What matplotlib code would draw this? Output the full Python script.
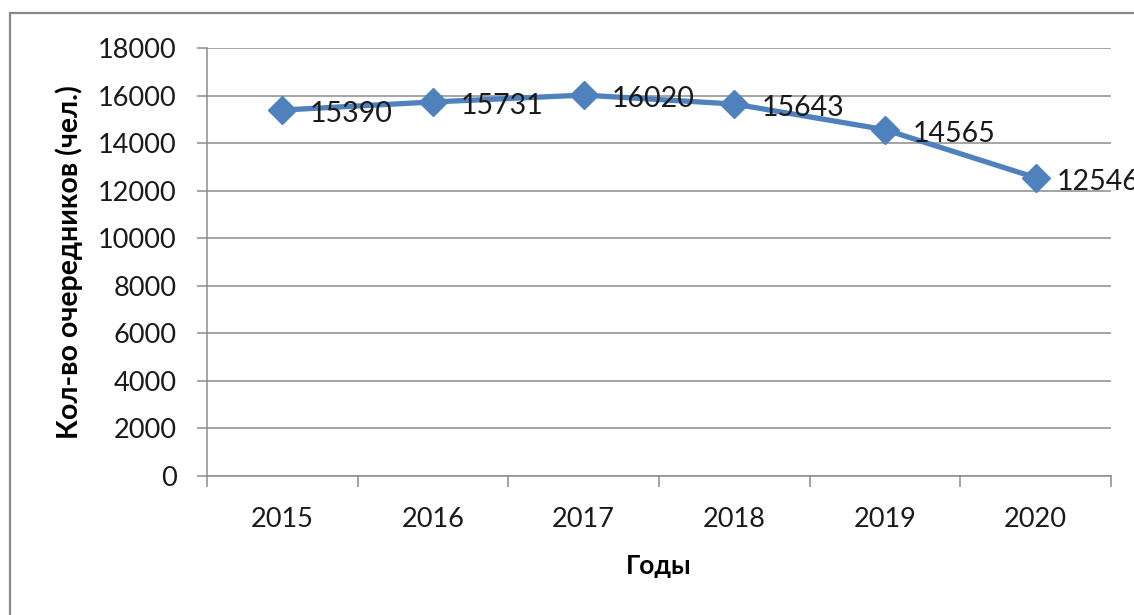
import matplotlib.pyplot as plt
from matplotlib.patches import Rectangle
from matplotlib.ticker import FixedLocator

plt.rcParams['font.family'] = ['Lato', 'Open Sans', 'DejaVu Sans']

# data
years = ['2015', '2016', '2017', '2018', '2019', '2020']
queue = [15390, 15731, 16020, 15643, 14565, 12546]

W, H = 1134, 615
fig = plt.figure(figsize=(W / 100, H / 100), dpi=100)
ax = fig.add_axes([207 / W, 1 - 476 / H, (1111 - 207) / W, (476 - 48) / H])

# outer chart frame (only left/top edges visible)
fig.add_artist(Rectangle((10 / W, -0.2), 1.2, 0.2 + (H - 13) / H,
                         transform=fig.transFigure, fill=False,
                         edgecolor='#888888', linewidth=1.6))

x = [i + 0.5 for i in range(len(years))]
ax.plot(x, queue, color='#4F81BD', linewidth=3.8, marker='D', markersize=14,
        zorder=3, clip_on=False)

for i, (xi, v) in enumerate(zip(x, queue)):
    # excel pulls the last label in toward the marker
    dx = 15 if i == len(queue) - 1 else 20
    ax.annotate(str(v), (xi, v), xytext=(dx, -3), textcoords='offset points',
                ha='left', va='center', fontsize=20.5, color='#1a1a1a',
                annotation_clip=False)

ax.set_xlim(0, len(years))
ax.set_ylim(0, 18000)
ax.set_yticks(range(0, 18001, 2000))
ax.set_xticks(x)
ax.set_xticklabels(years)
ax.xaxis.set_minor_locator(FixedLocator(range(len(years) + 1)))

ax.grid(axis='y', color='#8c8c8c', linewidth=1.1)
ax.set_axisbelow(True)
for s in ['top', 'right']:
    ax.spines[s].set_visible(False)
for s in ['left', 'bottom']:
    ax.spines[s].set_color('#8c8c8c')
    ax.spines[s].set_linewidth(1.1)

ax.tick_params(axis='y', length=7, width=1.1, color='#8c8c8c', pad=15,
               labelsize=19.5, labelcolor='#1a1a1a')
ax.tick_params(axis='x', which='major', length=0, pad=22,
               labelsize=19.5, labelcolor='#1a1a1a')
ax.tick_params(axis='x', which='minor', length=8, width=1.1, color='#8c8c8c')

ax.set_xlabel('Годы', fontsize=19, fontweight='bold', labelpad=16)
ax.set_ylabel('Кол-во очередников (чел.)', fontsize=20.5, fontweight='bold',
              labelpad=11)

fig.savefig('out.png', dpi=100)
